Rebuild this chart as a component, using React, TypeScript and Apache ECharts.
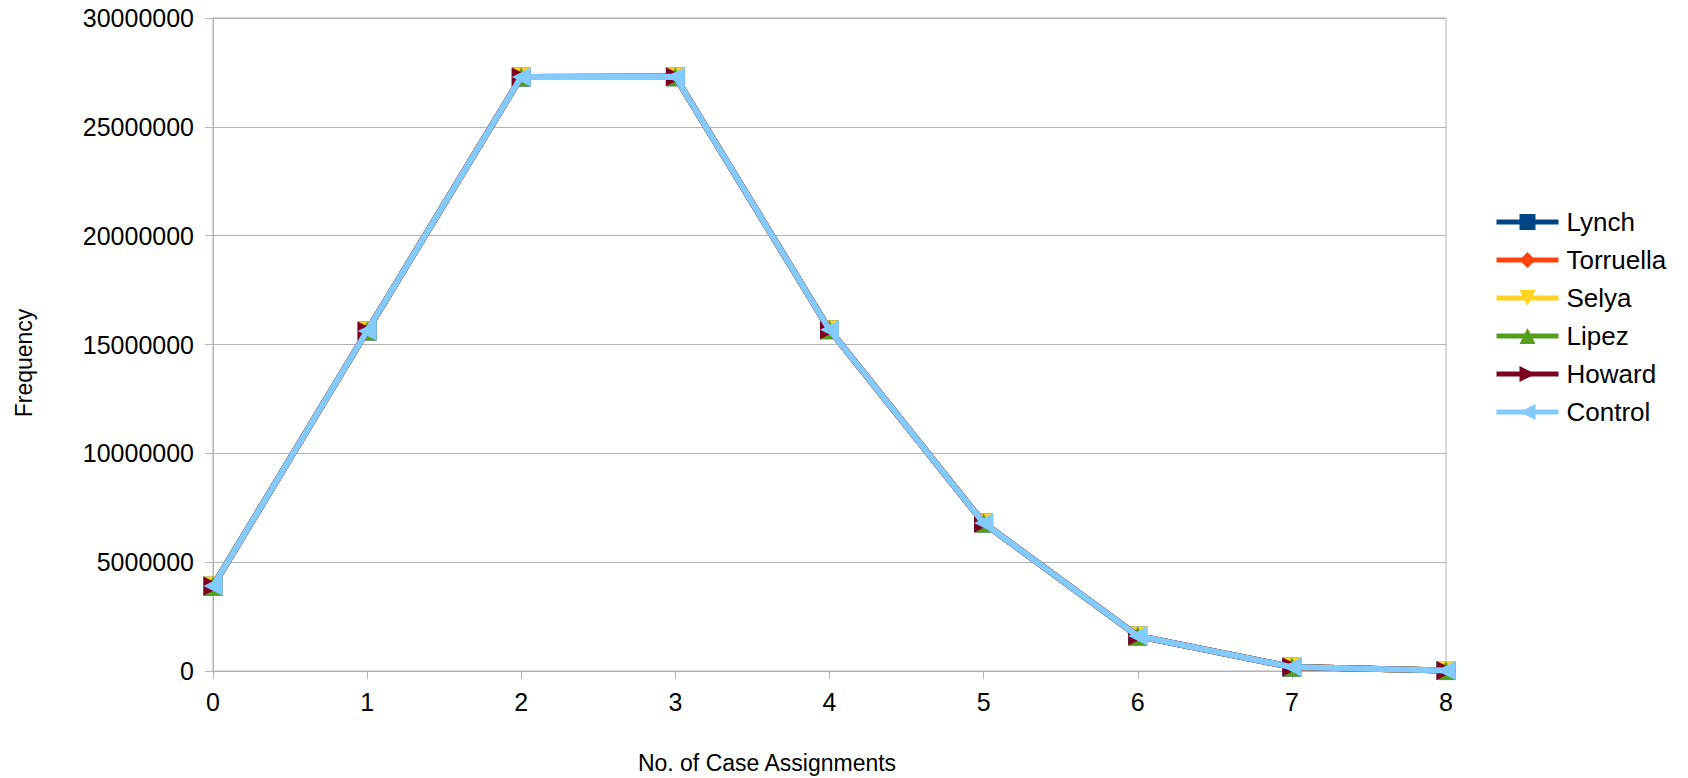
import React, { useEffect, useRef } from "react";
import * as echarts from "echarts";

const categories = ["0", "1", "2", "3", "4", "5", "6", "7", "8"];
const lynch = [3900000, 15620000, 27290000, 27300000, 15680000, 6800000, 1610000, 180000, 20000];
const torruella = [3900000, 15620000, 27290000, 27300000, 15680000, 6800000, 1610000, 180000, 20000];
const selya = [3900000, 15620000, 27290000, 27300000, 15680000, 6800000, 1610000, 180000, 20000];
const lipez = [3900000, 15620000, 27290000, 27300000, 15680000, 6800000, 1610000, 180000, 20000];
const howard = [3900000, 15620000, 27290000, 27300000, 15680000, 6800000, 1610000, 180000, 20000];
const control = [3900000, 15620000, 27290000, 27300000, 15680000, 6800000, 1610000, 180000, 20000];

const seriesNames = ["Lynch", "Torruella", "Selya", "Lipez", "Howard", "Control"];
const seriesData = [lynch, torruella, selya, lipez, howard, control];
const colors = ["#004586", "#ff420e", "#ffd320", "#579d1c", "#7e0021", "#83caff"];
const symbols = [
  "rect",
  "diamond",
  "path://M0,0 L10,0 L5,10 Z",
  "triangle",
  "path://M0,0 L10,5 L0,10 Z",
  "path://M10,0 L0,5 L10,10 Z",
];

export default function App() {
  const ref = useRef<HTMLDivElement>(null);
  useEffect(() => {
    if (!ref.current) return;
    const chart = echarts.init(ref.current, undefined, { renderer: "svg" });
    const font = "Liberation Sans";
    chart.setOption({
      animation: false,
      color: colors,
      textStyle: { fontFamily: font },
      grid: {
        left: 213,
        right: 242,
        top: 18,
        bottom: 107,
        show: true,
        borderColor: "#b3b3b3",
        borderWidth: 1,
      },
      legend: {
        orient: "vertical",
        left: 1494,
        top: 209,
        padding: 0,
        itemWidth: 62,
        itemHeight: 20,
        itemGap: 12,
        lineStyle: { width: 5 },
        textStyle: { fontSize: 26, color: "#000", fontFamily: font, padding: [0, 0, 0, 3] },
        data: seriesNames,
      },
      xAxis: {
        type: "category",
        data: categories,
        boundaryGap: false,
        axisLine: { lineStyle: { color: "#b3b3b3", width: 1 } },
        axisTick: { show: true, length: 8, lineStyle: { color: "#b3b3b3" } },
        axisLabel: { fontSize: 25, color: "#000", margin: 18, fontFamily: font },
        splitLine: { show: false },
      },
      yAxis: {
        type: "value",
        min: 0,
        max: 30000000,
        interval: 5000000,
        axisLine: { show: true, lineStyle: { color: "#b3b3b3", width: 1 } },
        axisTick: { show: true, length: 8, lineStyle: { color: "#b3b3b3" } },
        axisLabel: {
          fontSize: 25,
          color: "#000",
          margin: 19,
          fontFamily: font,
          formatter: (v: number) => String(v),
        },
        splitLine: { show: true, lineStyle: { color: "#b3b3b3", width: 1 } },
      },
      graphic: [
        {
          type: "text",
          x: 24,
          y: 363,
          rotation: Math.PI / 2,
          style: {
            text: "Frequency",
            fontSize: 23,
            fontFamily: font,
            fill: "#000",
            align: "center",
            verticalAlign: "middle",
          },
        },
        {
          type: "text",
          x: 767,
          y: 763,
          style: {
            text: "No. of Case Assignments",
            fontSize: 23,
            fontFamily: font,
            fill: "#000",
            align: "center",
            verticalAlign: "middle",
          },
        },
      ],
      series: seriesNames.map((name, i) => ({
        name,
        type: "line",
        data: seriesData[i],
        symbol: symbols[i],
        symbolSize: 19,
        showAllSymbol: true,
        lineStyle: { width: 6, color: colors[i] },
        itemStyle: { color: colors[i] },
        z: 2 + i,
      })),
    });
    return () => chart.dispose();
  }, []);
  return (
    <div
      ref={ref}
      style={{ position: "fixed", left: 0, top: 0, width: 1688, height: 778, background: "#fff" }}
    />
  );
}
